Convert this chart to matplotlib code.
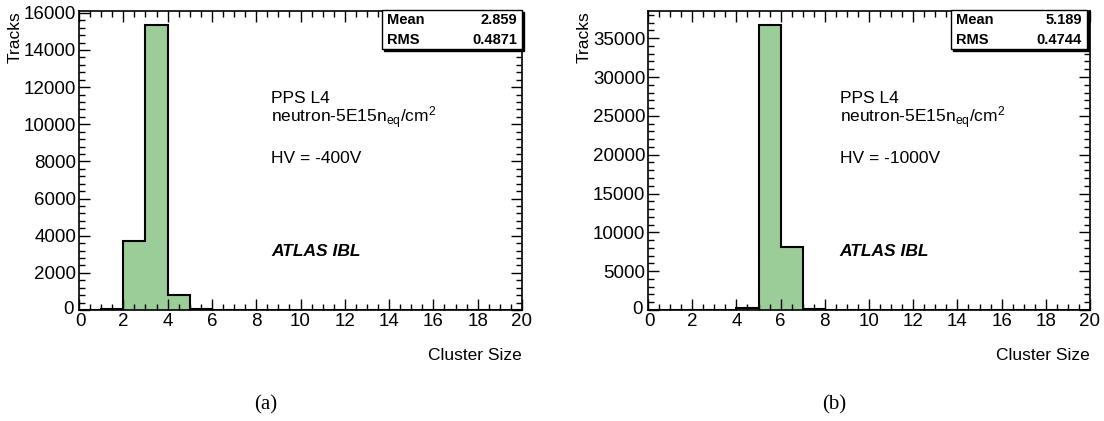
import numpy as np
import matplotlib
matplotlib.use("Agg")
import matplotlib.pyplot as plt
from matplotlib.patches import Rectangle
from matplotlib.ticker import MultipleLocator, FuncFormatter

plt.rcParams['font.family'] = ['Liberation Sans', 'DejaVu Sans']
plt.rcParams['mathtext.fontset'] = 'custom'
plt.rcParams['mathtext.rm'] = 'Liberation Sans'
plt.rcParams['mathtext.it'] = 'Liberation Sans:italic'

# --- data ---
bin_edges = np.arange(0, 21, 1)
counts_a = [0, 50, 3720, 15350, 830, 40] + [0] * 14
counts_b = [0, 0, 0, 0, 280, 36700, 8150, 180] + [0] * 12
hv_labels = ["HV = -400V", "HV = -1000V"]
stats_mean = ["2.859", "5.189"]
stats_rms = ["0.4871", "0.4744"]
panel_tags = ["(a)", "(b)"]
ymax = [16100, 38500]
y_major = [2000, 5000]
y_minor = [400, 1000]

fill_green = '#9acd98'
W, H = 1104, 421

fig = plt.figure(figsize=(W / 100, H / 100), dpi=100)

# axes pixel boxes: (left, right, top, bottom)
boxes = [(79, 522, 11, 310), (648, 1090, 11, 310)]
stat_boxes = [(382, 522, 10, 49), (951, 1087, 10, 49)]

no_zero = FuncFormatter(lambda v, p: '' if v == 0 else f'{v:g}')

for i, counts in enumerate([counts_a, counts_b]):
    l, r, t, b = boxes[i]
    ax = fig.add_axes([l / W, 1 - b / H, (r - l) / W, (b - t) / H])
    ax.stairs(counts, bin_edges, fill=True, color=fill_green, linewidth=0)
    ax.stairs(counts, bin_edges, color='black', linewidth=1.5)
    ax.set_xlim(0, 20)
    ax.set_ylim(0, ymax[i])
    ax.xaxis.set_major_locator(MultipleLocator(2))
    ax.xaxis.set_minor_locator(MultipleLocator(0.5))
    ax.yaxis.set_major_locator(MultipleLocator(y_major[i]))
    ax.yaxis.set_minor_locator(MultipleLocator(y_minor[i]))
    ax.xaxis.set_major_formatter(no_zero)
    ax.yaxis.set_major_formatter(no_zero)
    ax.tick_params(which='both', direction='in', top=True, right=True,
                   labelsize=13.5, width=1)
    ax.tick_params(which='major', length=8, pad=2)
    ax.tick_params(which='minor', length=4)
    for s in ax.spines.values():
        s.set_linewidth(1.2)

    # the two "0" labels at the corner, set apart like ROOT does
    ax.annotate("0", (0, 0), xycoords='axes fraction', xytext=(-5, 1),
                textcoords='offset pixels', ha='right', va='center', fontsize=13.5)
    ax.annotate("0", (0, 0), xycoords='axes fraction', xytext=(1, -3),
                textcoords='offset pixels', ha='center', va='top', fontsize=13.5)

    ax.set_ylabel("Tracks", fontsize=12.5, loc='top', labelpad=1)
    ax.set_xlabel("Cluster Size", fontsize=12.5, loc='right', labelpad=13)

    tx = 0.434
    ax.text(tx, 0.709, "PPS L4", transform=ax.transAxes, fontsize=12.5, va='center')
    ax.text(tx, 0.642, r"neutron-5E15n$_{\mathrm{eq}}$/cm$^{2}$",
            transform=ax.transAxes, fontsize=12.5, va='center')
    ax.text(tx, 0.508, hv_labels[i], transform=ax.transAxes, fontsize=12.5, va='center')
    ax.text(tx, 0.194, "ATLAS IBL", transform=ax.transAxes, fontsize=12.5,
            va='center', fontweight='bold', fontstyle='italic')

    # stats box with shadow
    sl, sr, st, sb = stat_boxes[i]
    fig.patches.append(Rectangle(((sl + 2) / W, 1 - (sb + 2) / H), (sr - sl) / W, (sb - st) / H,
                                 transform=fig.transFigure, facecolor='black',
                                 edgecolor='black', zorder=5))
    fig.patches.append(Rectangle((sl / W, 1 - sb / H), (sr - sl) / W, (sb - st) / H,
                                 transform=fig.transFigure, facecolor='white',
                                 edgecolor='black', linewidth=1, zorder=6))
    for k, (name, val) in enumerate([("Mean", stats_mean[i]), ("RMS", stats_rms[i])]):
        yy = 1 - (st + 10 + k * 20) / H
        fig.text((sl + 5) / W, yy, name, fontsize=10.5, fontweight='bold', va='center', zorder=7)
        fig.text((sr - 5) / W, yy, val, fontsize=10.5, fontweight='bold', va='center',
                 ha='right', zorder=7)

    fig.text(((l + r) / 2 - 35) / W, 1 - 405 / H, panel_tags[i],
             family=['Liberation Serif', 'DejaVu Serif'], fontsize=15, ha='center', va='center')

fig.savefig("out.png", dpi=100)
